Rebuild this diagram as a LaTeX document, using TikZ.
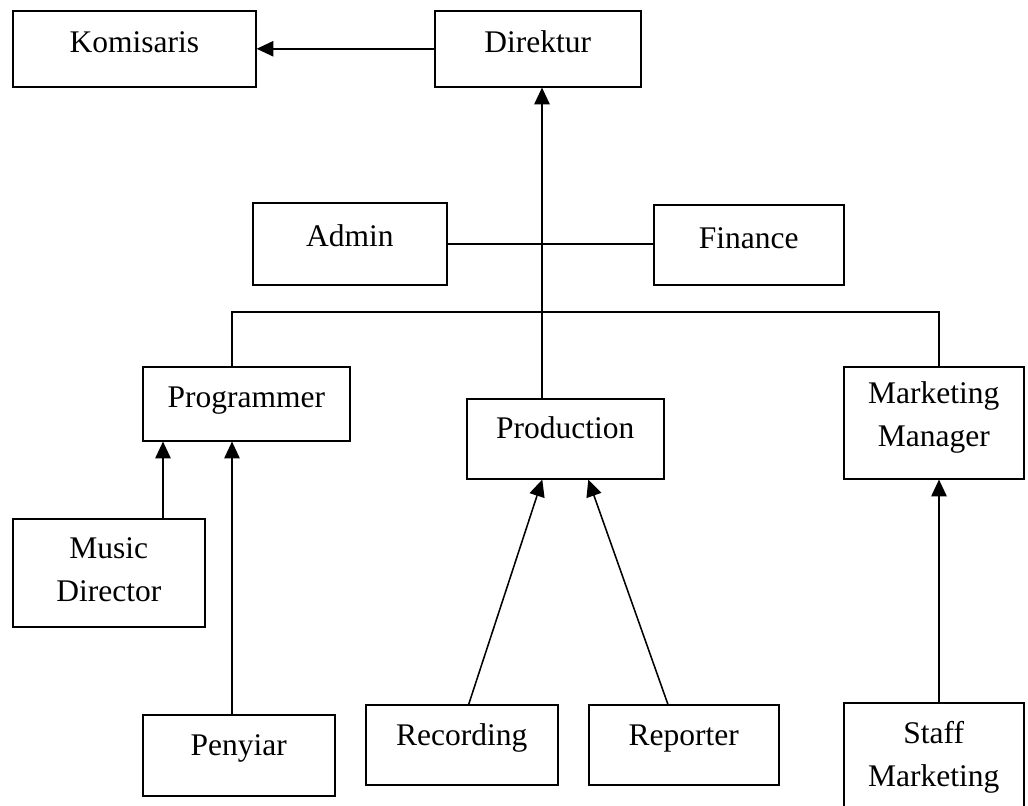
\documentclass[tikz,border=0pt]{standalone}
\usepackage{fontspec}
\setmainfont{Liberation Serif}
\usetikzlibrary{arrows.meta, calc, positioning}

\begin{document}
\begin{tikzpicture}[
    x=0.025cm, y=-0.025cm,
    every node/.style={align=center},
    orgbox/.style={
        draw=black, line width=1.1pt,
        inner sep=0pt, anchor=north west,
        font=\fontsize{22.4}{30.5}\selectfont
    },
    linkline/.style={line width=1.1pt, color=black},
    arrowline/.style={
        -{Triangle[length=12pt, width=11pt]},
        line width=1.1pt, color=black
    }
]
    \useasboundingbox (0,0) rectangle (1028,806);

    % ------------------- TOP LEVEL -------------------
    \node[orgbox, text width=6.075cm, text height=1.05cm, text depth=0.85cm] (komisaris) at (12,10) {Komisaris};
    \node[orgbox, text width=5.15cm, text height=1.05cm, text depth=0.85cm] (direktur) at (434,10) {Direktur};

    % ------------------- STAFF (Admin / Finance) -------------------
    \node[orgbox, text width=4.85cm, text height=1.1cm, text depth=0.95cm] (admin) at (252,202) {Admin};
    \node[orgbox, text width=4.75cm, text height=1.1cm, text depth=0.9cm] (finance) at (653,204) {Finance};

    % ------------------- DIVISIONS -------------------
    \node[orgbox, text width=5.175cm, text height=1.025cm, text depth=0.825cm] (programmer) at (142,366) {Programmer};
    \node[orgbox, text width=4.925cm, text height=1.0cm, text depth=1.0cm] (production) at (466,398) {Production};
    \node[orgbox, text width=4.5cm, text height=0.925cm, text depth=1.875cm] (marketing) at (843,366) {Marketing\\Manager};

    % ------------------- SUB UNITS -------------------
    \node[orgbox, text width=4.8cm, text height=1.0cm, text depth=1.7cm] (music) at (12,518) {Music\\Director};
    \node[orgbox, text width=4.8cm, text height=1.025cm, text depth=1.0cm] (penyiar) at (142,714) {Penyiar};
    \node[orgbox, text width=4.8cm, text height=1.025cm, text depth=0.975cm] (recording) at (365,704) {Recording};
    \node[orgbox, text width=4.75cm, text height=1.025cm, text depth=0.975cm] (reporter) at (588,704) {Reporter};
    \node[orgbox, text width=4.5cm, text height=1.025cm, text depth=1.875cm] (staff) at (843,702) {Staff\\Marketing};

    % ------------------- CONNECTORS -------------------
    \coordinate (spine) at (542,0);
    \coordinate (bus) at (0,312);
    \coordinate (progleft) at (163,0);
    \coordinate (progright) at (232,0);
    \coordinate (mktline) at (939,0);

    \draw[arrowline] (direktur.west) -- (komisaris.east);
    \draw[arrowline] (spine |- production.north) -- (spine |- direktur.south);
    \draw[linkline] (admin.east) -- (admin.east -| finance.west);

    \draw[linkline] (progright |- programmer.north) -- (progright |- bus)
        -- (mktline |- bus) -- (mktline |- marketing.north);

    \draw[arrowline] (progleft |- music.north) -- (progleft |- programmer.south);
    \draw[arrowline] (progright |- penyiar.north) -- (progright |- programmer.south);

    \draw[arrowline] ($(recording.north)+(7,0)$) -- ($(production.south)+(-23,0)$);
    \draw[arrowline] ($(reporter.north)+(-16,0)$) -- ($(production.south)+(23,0)$);

    \draw[arrowline] (mktline |- staff.north) -- (mktline |- marketing.south);
\end{tikzpicture}
\end{document}
